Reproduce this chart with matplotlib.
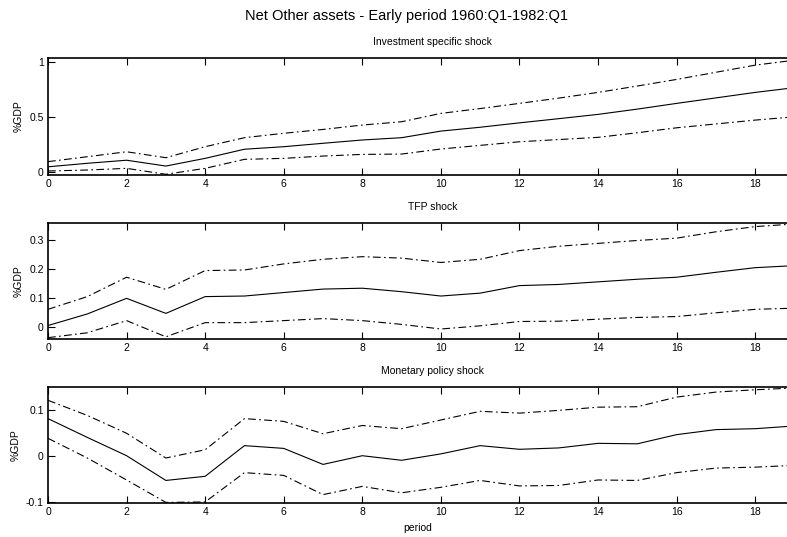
#!/usr/bin/env python3
"""
Impulse responses of net other assets (%GDP) to three shocks, early period.
"""

import matplotlib
matplotlib.use('Agg')
import matplotlib.pyplot as plt
import numpy as np

plt.rcParams['font.family'] = ['Liberation Sans', 'DejaVu Sans']

# horizon (quarters)
period = np.arange(20)

# Investment specific shock: median and error bands
inv_mid = [0.05, 0.082, 0.11, 0.057, 0.127, 0.21, 0.233, 0.264, 0.294, 0.315,
           0.375, 0.41, 0.45, 0.488, 0.527, 0.575, 0.627, 0.677, 0.727, 0.77]
inv_hi = [0.097, 0.142, 0.187, 0.133, 0.233, 0.315, 0.355, 0.39, 0.43, 0.46,
          0.536, 0.58, 0.627, 0.675, 0.727, 0.785, 0.845, 0.91, 0.975, 1.02]
inv_lo = [0.012, 0.021, 0.036, -0.018, 0.036, 0.118, 0.127, 0.148, 0.163, 0.166,
          0.212, 0.245, 0.278, 0.298, 0.318, 0.36, 0.405, 0.44, 0.475, 0.505]

# TFP shock
tfp_mid = [0.006, 0.046, 0.10, 0.048, 0.106, 0.108, 0.12, 0.132, 0.135, 0.123,
           0.108, 0.118, 0.144, 0.148, 0.157, 0.166, 0.173, 0.19, 0.206, 0.213]
tfp_hi = [0.062, 0.106, 0.173, 0.131, 0.196, 0.198, 0.219, 0.235, 0.244, 0.239,
          0.224, 0.235, 0.265, 0.28, 0.29, 0.30, 0.308, 0.33, 0.348, 0.357]
tfp_lo = [-0.036, -0.019, 0.023, -0.033, 0.016, 0.016, 0.023, 0.030, 0.023, 0.010,
          -0.006, 0.005, 0.02, 0.021, 0.028, 0.034, 0.037, 0.05, 0.062, 0.066]

# Monetary policy shock
mon_mid = [0.082, 0.041, 0.001, -0.053, -0.044, 0.023, 0.017, -0.018, 0.001, -0.009,
           0.005, 0.023, 0.015, 0.018, 0.028, 0.027, 0.047, 0.058, 0.060, 0.066]
mon_hi = [0.122, 0.089, 0.050, -0.004, 0.014, 0.082, 0.076, 0.049, 0.067, 0.060,
          0.079, 0.098, 0.094, 0.10, 0.107, 0.108, 0.129, 0.14, 0.145, 0.149]
mon_lo = [0.039, -0.004, -0.052, -0.101, -0.10, -0.036, -0.042, -0.084, -0.066, -0.08,
          -0.068, -0.053, -0.065, -0.064, -0.052, -0.053, -0.036, -0.026, -0.024, -0.02]

titles = ['Investment specific shock', 'TFP shock', 'Monetary policy shock']
mids = [inv_mid, tfp_mid, mon_mid]
his = [inv_hi, tfp_hi, mon_hi]
los = [inv_lo, tfp_lo, mon_lo]
ylims = [(-0.025, 1.04), (-0.04, 0.362), (-0.103, 0.1515)]
yticks = [[0, 0.5, 1], [0, 0.1, 0.2, 0.3], [-0.1, 0, 0.1]]
yticklabels = [['0', '0.5', '1'], ['0', '0.1', '0.2', '0.3'], ['-0.1', '0', '0.1']]

fig = plt.figure(figsize=(7.87, 5.37), dpi=100)

# axes boxes in figure fractions (left, bottom, width, height)
boxes = [(0.061, 0.674, 0.939, 0.218),
         (0.061, 0.369, 0.939, 0.2166),
         (0.061, 0.0627, 0.939, 0.217)]

dashdot = (0, (7, 3, 1.5, 3))

for i in range(3):
    ax = fig.add_axes(boxes[i])
    ax.plot(period, mids[i], '-', color='black', linewidth=0.8)
    ax.plot(period, his[i], color='black', linewidth=0.8, linestyle=dashdot)
    ax.plot(period, los[i], color='black', linewidth=0.8, linestyle=dashdot)
    ax.set_xlim(0, 18.81)
    ax.set_ylim(*ylims[i])
    ax.set_xticks(np.arange(0, 19, 2))
    ax.set_yticks(yticks[i])
    ax.set_yticklabels(yticklabels[i])
    ax.tick_params(axis='both', direction='in', labelsize=7.5, length=5, width=0.8, pad=3)
    ax.tick_params(axis='x', top=True)
    ax.spines['right'].set_visible(False)
    for s in ['left', 'top', 'bottom']:
        ax.spines[s].set_linewidth(1.2)
    ax.set_ylabel('%GDP', fontsize=7.5, labelpad=4)
    ax.set_title(titles[i], fontsize=7.5, pad=9, x=0.52)

ax.set_xlabel('period', fontsize=7.5, labelpad=4)

fig.text(0.517, 0.971, 'Net Other assets - Early period 1960:Q1-1982:Q1',
         ha='center', va='center', fontsize=10.5)

fig.savefig('out.png', dpi=100)
print("Saved out.png")
